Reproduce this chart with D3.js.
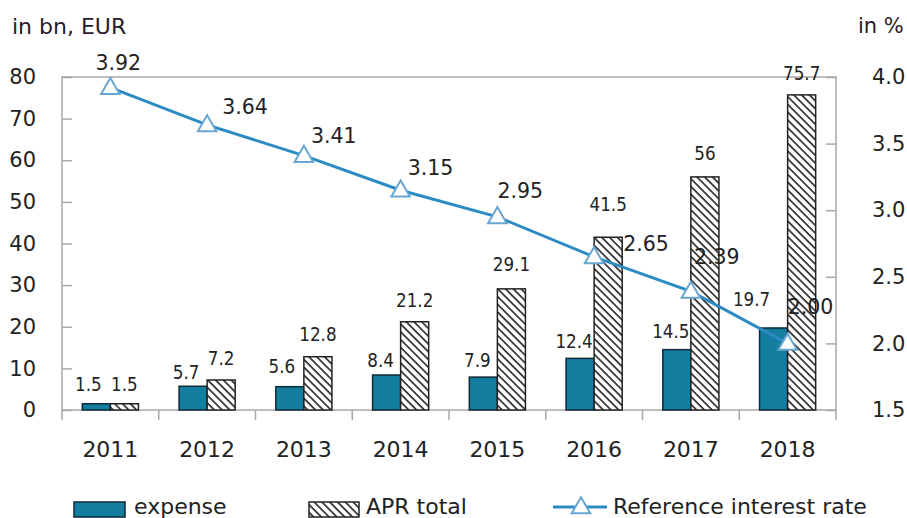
<!DOCTYPE html>
<html><head><meta charset="utf-8">
<script src="https://cdn.jsdelivr.net/npm/d3@7"></script>
<style>body{margin:0;background:#fff}svg{display:block;font-family:"DejaVu Sans",Verdana,sans-serif}</style>
</head><body><svg id="c" width="907" height="518"></svg>
<script>
const years = ["2011","2012","2013","2014","2015","2016","2017","2018"];
const expense = [1.5,5.7,5.6,8.4,7.9,12.4,14.5,19.7];
const aprTotal = [1.5,7.2,12.8,21.2,29.1,41.5,56,75.7];
const refRate = [3.92,3.64,3.41,3.15,2.95,2.65,2.39,2.00];
const leftTicks = [0,10,20,30,40,50,60,70,80];
const rightTicks = [1.5,2.0,2.5,3.0,3.5,4.0];
const rateLabels = ["3.92","3.64","3.41","3.15","2.95","2.65","2.39","2.00"];

// label placement (layout only, relative to each mark)
const rateLabelDx = [-15,15,7,7,0,29,3,0];
const rateLabelDy = [-18,-11,-13,-15,-19,-6,-27,-29];
const expLabelDx = [-8,-7,-8,-6,-6,-6,-6,-22];
const expLabelDy = [-13,-7,-14,-8,-10,-10,-12,-22];
const aprLabelDy = [-13,-15,-16,-15,-18,-26,-17,-15];

const svg = d3.select("#c");
const L=62,R=836,T=77,B=410;
const blue="#137ea0", lineC="#2c8bc3", txt="#222", grid="#a8a8a8";

const defs=svg.append("defs");
const pat=defs.append("pattern").attr("id","hatch").attr("patternUnits","userSpaceOnUse")
  .attr("width",5.5).attr("height",5.5).attr("patternTransform","rotate(45)");
pat.append("rect").attr("width",5.5).attr("height",5.5).attr("fill","#fff");
pat.append("line").attr("x1",0).attr("y1",0).attr("x2",5.5).attr("y2",0).attr("stroke","#222").attr("stroke-width",3.2);

const x=d3.scaleBand().domain(years).range([L,R]).paddingInner(0.42).paddingOuter(0.21);
const xc=d3.scaleBand().domain(years).range([L,R]);
const xs=d3.scaleBand().domain(["e","a"]).range([0,x.bandwidth()]);
const y=d3.scaleLinear().domain([0,80]).range([B,T]);
const y2=d3.scaleLinear().domain([1.5,4.0]).range([B,T]);

// frame
svg.append("rect").attr("x",L).attr("y",T).attr("width",R-L).attr("height",B-T)
  .attr("fill","none").attr("stroke",grid).attr("stroke-width",1.5);

// left axis
const ya=svg.append("g").attr("transform",`translate(${L},0)`)
  .call(d3.axisLeft(y).tickValues(leftTicks).tickSize(-10).tickPadding(26).tickFormat(d3.format("d")));
ya.select(".domain").remove();
ya.selectAll("line").attr("stroke",grid).attr("stroke-width",1.5);
ya.selectAll("text").attr("font-size",21).attr("fill",txt).attr("font-family","DejaVu Sans");

// right axis
const yb=svg.append("g").attr("transform",`translate(${R},0)`)
  .call(d3.axisRight(y2).tickValues(rightTicks).tickSize(-10).tickPadding(36).tickFormat(d3.format(".1f")));
yb.select(".domain").remove();
yb.selectAll("line").attr("stroke",grid).attr("stroke-width",1.5);
yb.selectAll("text").attr("font-size",21).attr("fill",txt).attr("font-family","DejaVu Sans");

// bottom axis
const xa=svg.append("g").attr("transform",`translate(0,${B})`)
  .call(d3.axisBottom(xc).tickSize(0).tickPadding(31));
xa.select(".domain").remove();
xa.selectAll("text").attr("font-size",22).attr("fill",txt).attr("font-family","DejaVu Sans");
svg.append("g").selectAll("line").data(d3.range(years.length+1)).join("line")
  .attr("x1",i=>L+i*xc.step()).attr("x2",i=>L+i*xc.step()).attr("y1",B).attr("y2",B+10)
  .attr("stroke",grid).attr("stroke-width",1.5);

// bars
const g=svg.append("g");
g.selectAll(".e").data(years).join("rect")
  .attr("x",(d)=>x(d)+xs("e")).attr("width",xs.bandwidth())
  .attr("y",(d,i)=>y(expense[i])).attr("height",(d,i)=>B-y(expense[i]))
  .attr("fill",blue).attr("stroke","#0d2a36").attr("stroke-width",1.5);
g.selectAll(".a").data(years).join("rect")
  .attr("x",(d)=>x(d)+xs("a")).attr("width",xs.bandwidth())
  .attr("y",(d,i)=>y(aprTotal[i])).attr("height",(d,i)=>B-y(aprTotal[i]))
  .attr("fill","url(#hatch)").attr("stroke","#222").attr("stroke-width",1.5);

// line
const cx=d=>xc(d)+xc.bandwidth()/2;
svg.append("path").datum(years).attr("fill","none").attr("stroke",lineC).attr("stroke-width",3)
  .attr("d",d3.line().x(d=>cx(d)).y((d,i)=>y2(refRate[i])));
const tri=d3.symbol().type(d3.symbolTriangle).size(150);
svg.append("g").selectAll("path").data(years).join("path")
  .attr("transform",(d,i)=>`translate(${cx(d)},${y2(refRate[i])+1})`)
  .attr("d",tri).attr("fill","#fff").attr("stroke","#6aa6d2").attr("stroke-width",2);

// bar labels (condensed look)
const sq=0.84;
g.selectAll(".el").data(years).join("text")
  .attr("transform",(d,i)=>`translate(${x(d)+xs("e")+xs.bandwidth()/2+expLabelDx[i]},${y(expense[i])+expLabelDy[i]}) scale(${sq},1)`)
  .attr("text-anchor","middle").attr("font-size",20).attr("fill",txt)
  .text((d,i)=>expense[i]);
g.selectAll(".al").data(years).join("text")
  .attr("transform",(d,i)=>`translate(${x(d)+xs("a")+xs.bandwidth()/2},${y(aprTotal[i])+aprLabelDy[i]}) scale(${sq},1)`)
  .attr("text-anchor","middle").attr("font-size",20).attr("fill",txt)
  .text((d,i)=>aprTotal[i]);

// rate labels
svg.append("g").selectAll("text").data(years).join("text")
  .attr("x",(d,i)=>cx(d)+rateLabelDx[i]).attr("y",(d,i)=>y2(refRate[i])+rateLabelDy[i])
  .attr("font-size",20.5).attr("fill",txt).text((d,i)=>rateLabels[i]);

// axis titles
svg.append("text").attr("x",12).attr("y",34).attr("font-size",22).attr("fill","#2a1a2a").text("in bn, EUR");
svg.append("text").attr("x",858).attr("y",33).attr("font-size",21).attr("fill","#2a1a2a").text("in %");

// legend
const lg=svg.append("g").attr("font-size",22).attr("fill",txt);
lg.append("rect").attr("x",74).attr("y",502).attr("width",51).attr("height",15).attr("fill",blue).attr("stroke","#0d2a36").attr("stroke-width",1.5);
lg.append("text").attr("x",134).attr("y",514).text("expense");
lg.append("rect").attr("x",309).attr("y",502).attr("width",50).attr("height",15).attr("fill","url(#hatch)").attr("stroke","#222").attr("stroke-width",1.5);
lg.append("text").attr("x",366).attr("y",514).text("APR total");
lg.append("line").attr("x1",553).attr("x2",607).attr("y1",507).attr("y2",507).attr("stroke",lineC).attr("stroke-width",3);
lg.append("path").attr("transform","translate(581,508)").attr("d",tri).attr("fill","#fff").attr("stroke","#6aa6d2").attr("stroke-width",2);
lg.append("text").attr("x",613).attr("y",514).text("Reference interest rate");
</script></body></html>
